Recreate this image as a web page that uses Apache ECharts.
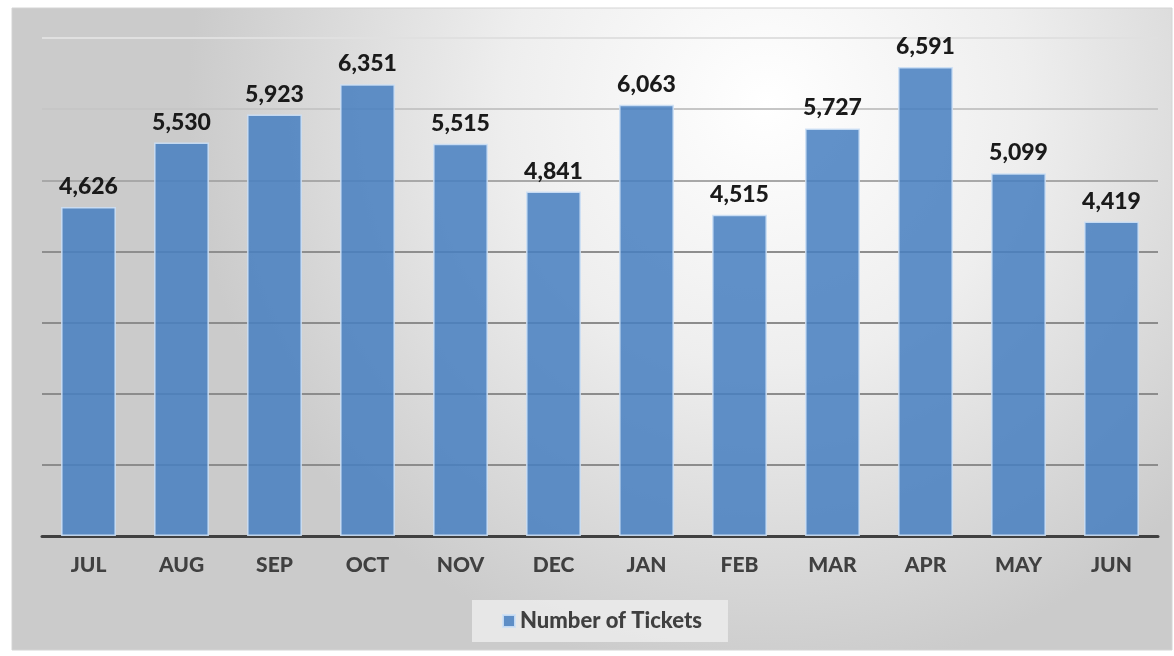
<!DOCTYPE html>
<html><head><meta charset="utf-8">
<script src="https://cdn.jsdelivr.net/npm/echarts@6/dist/echarts.min.js"></script>
<style>html,body{margin:0;padding:0;background:#fff}#c{width:1174px;height:656px}</style>
</head><body><div id="c"></div>
<script>
const categories = ['JUL','AUG','SEP','OCT','NOV','DEC','JAN','FEB','MAR','APR','MAY','JUN'];
const tickets = [4626,5530,5923,6351,5515,4841,6063,4515,5727,6591,5099,4419];
const seriesName = 'Number of Tickets';

const chart = echarts.init(document.getElementById('c'));
chart.setOption({
  animation: false,
  graphic: [{
    type: 'rect', z: -10, silent: true,
    shape: {x: 12, y: 8, width: 1160, height: 642},
    style: {
      fill: new echarts.graphic.RadialGradient(0.65, 0.15, 0.9, [
        {offset: 0, color: '#ffffff'},
        {offset: 0.45, color: '#eeeeee'},
        {offset: 1, color: '#cbcbcb'}
      ]),
      stroke: '#d4d4d4', lineWidth: 1
    }
  }],
  grid: {left: 42, right: 16, top: 38, bottom: 120, containLabel: false},
  legend: {
    bottom: 14, left: 472,
    data: [seriesName],
    icon: 'rect', itemWidth: 12, itemHeight: 12, itemGap: 7,
    padding: [10, 26, 10, 30],
    backgroundColor: 'rgba(234,234,234,0.9)',
    textStyle: {fontFamily: 'Lato', fontWeight: 900, fontSize: 22, color: '#404040'}
  },
  xAxis: {
    type: 'category', data: categories,
    axisLine: {lineStyle: {color: '#404040', width: 3}},
    axisTick: {show: false},
    axisLabel: {fontFamily: 'Lato', fontWeight: 900, fontSize: 21, color: '#404040', margin: 19}
  },
  yAxis: {
    type: 'value', min: 0, max: 7000, interval: 1000,
    axisLabel: {show: false}, axisLine: {show: false}, axisTick: {show: false},
    splitLine: {lineStyle: {
      color: ['#404040','#8c8c8c','#8c8c8c','#8c8c8c','#8e8e8e','#a8a8a8','#c6c6c6','#e0e0e0'],
      width: 2
    }}
  },
  series: [{
    name: seriesName, type: 'bar', data: tickets, barWidth: '59%',
    itemStyle: {color: 'rgba(71,127,192,0.86)', borderColor: 'rgba(205,224,245,0.9)', borderWidth: 1.5},
    label: {
      show: true, position: 'top', distance: 9,
      fontFamily: 'Lato', fontWeight: 900, fontSize: 23, color: '#1a1a1a',
      formatter: p => p.value.toLocaleString('en-US')
    }
  }]
});
</script></body></html>
